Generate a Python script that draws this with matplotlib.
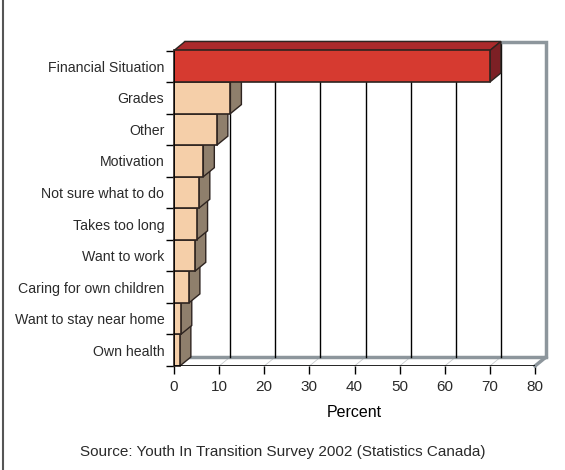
import matplotlib
matplotlib.use("Agg")
import matplotlib.pyplot as plt
from matplotlib.patches import Polygon
from matplotlib.lines import Line2D

plt.rcParams['font.family'] = ['Liberation Sans', 'DejaVu Sans']
plt.rcParams['text.color'] = '#2a2a2a'
plt.rcParams['xtick.labelcolor'] = '#2a2a2a'
plt.rcParams['ytick.labelcolor'] = '#2a2a2a'

# reasons for leaving post-secondary, percent
reasons = ['Financial Situation', 'Grades', 'Other', 'Motivation',
           'Not sure what to do', 'Takes too long', 'Want to work',
           'Caring for own children', 'Want to stay near home', 'Own health']
percent = [70, 12.5, 9.5, 6.5, 5.5, 5.0, 4.6, 3.3, 1.5, 1.3]
x_ticks = [0, 10, 20, 30, 40, 50, 60, 70, 80]

W, H = 565, 470
fig = plt.figure(figsize=(W / 100, H / 100), dpi=100)
x0, x1, y0, y1 = 174, 535, 366, 50.5
ax = fig.add_axes([x0 / W, 1 - y0 / H, (x1 - x0) / W, (y0 - y1) / H])
n = len(reasons)
xmax = 80
ax.set_xlim(0, xmax)
ax.set_ylim(-0.5, n - 0.5)

# depth of the fake 3d box, in data units
dx = 11 / ((x1 - x0) / xmax)
dy = 9 / ((y0 - y1) / n)
grey = '#8d969c'
edge = '#2e2420'

ybot, ytop = -0.5, n - 0.5
# floor slab
ax.add_patch(Polygon([(0, ybot), (xmax, ybot), (xmax + dx, ybot + dy), (dx, ybot + dy)],
                     closed=True, facecolor='white', edgecolor='none', clip_on=False, zorder=1))
for t in x_ticks[1:-1]:
    ax.plot([t, t + dx], [ybot, ybot + dy], color='#c8cbcd', lw=0.6, clip_on=False, zorder=1.5)
ax.plot([dx, xmax + dx], [ybot + dy, ybot + dy], color=grey, lw=2.5, clip_on=False,
        zorder=2, solid_capstyle='butt')
ax.plot([xmax, xmax + dx], [ybot, ybot + dy], color=grey, lw=2.5, clip_on=False, zorder=2)

# back wall
for t in x_ticks[1:-1]:
    ax.plot([t + dx, t + dx], [ybot + dy, ytop + dy], color='black', lw=1,
            clip_on=False, zorder=2)
ax.plot([dx, xmax + dx, xmax + dx], [ytop + dy, ytop + dy, ybot + dy], color=grey,
        lw=2.5, clip_on=False, zorder=2, solid_joinstyle='miter')

# bars, drawn bottom-up so the upper ones cover the lower tops
ypos = [n - 1 - i for i in range(n)]
for i in range(n - 1, -1, -1):
    v, yc = percent[i], ypos[i]
    b, t = yc - 0.5, yc + 0.5
    if i == 0:
        front, top, side = '#d63a30', '#ab2a2c', '#7c2025'
    else:
        front, top, side = '#f5cfa9', '#c9a888', '#8f7f6c'
    ax.add_patch(Polygon([(0, t), (v, t), (v + dx, t + dy), (dx, t + dy)], closed=True,
                         facecolor=top, edgecolor=edge, lw=1, clip_on=False, zorder=3))
    ax.add_patch(Polygon([(v, b), (v + dx, b + dy), (v + dx, t + dy), (v, t)], closed=True,
                         facecolor=side, edgecolor=edge, lw=1, clip_on=False, zorder=3))
    ax.barh(yc, v, height=1, color=front, edgecolor=edge, lw=1.2, zorder=3, clip_on=False)

ax.axhline(ybot, color='black', lw=1.2, zorder=4)
ax.axvline(0, color='black', lw=1.2, zorder=4)

for s in ax.spines.values():
    s.set_visible(False)
ax.set_xticks(x_ticks)
ax.tick_params(axis='x', direction='out', length=6, width=1, labelsize=11, pad=4)
ax.set_yticks(ypos)
ax.set_yticklabels(reasons)
ax.set_yticks([k - 0.5 for k in range(n + 1)], minor=True)
ax.tick_params(axis='y', which='major', length=0, labelsize=10.2, pad=7)
ax.tick_params(axis='y', which='minor', length=6, width=1, direction='out')
ax.set_xlabel('Percent', fontsize=11.5, labelpad=8)

fig.text(0.5, 1 - 452 / H, 'Source: Youth In Transition Survey 2002 (Statistics Canada)',
         ha='center', va='center', fontsize=11)
fig.add_artist(Line2D([3 / W, 3 / W], [0, 1], color='#555555', lw=1.5))

fig.savefig('out.png', dpi=100)
